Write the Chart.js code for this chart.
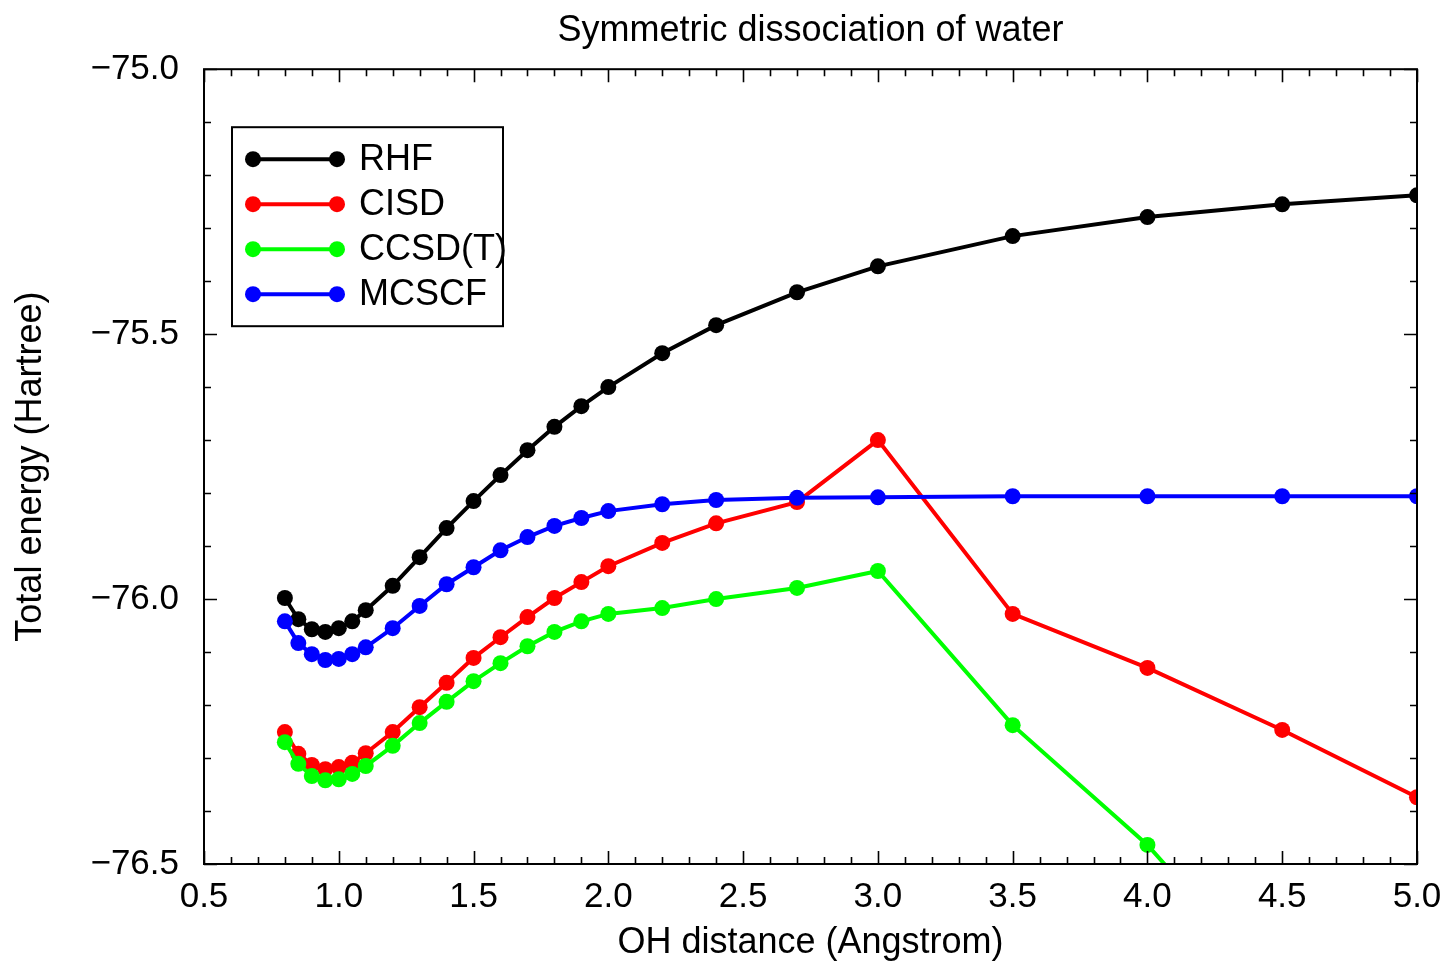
<!DOCTYPE html>
<html>
<head>
<meta charset="utf-8">
<script src="https://cdn.jsdelivr.net/npm/chart.js@4.4.1/dist/chart.umd.min.js"></script>
<style>
  html, body { margin: 0; padding: 0; background: #fff; }
  #wrap { width: 1447px; height: 963px; }
</style>
</head>
<body>
<div id="wrap"><canvas id="chart" width="1447" height="963"></canvas></div>
<script>
// OH distance (Angstrom)
const distances = [0.8, 0.85, 0.9, 0.95, 1.0, 1.05, 1.1, 1.2, 1.3, 1.4, 1.5, 1.6, 1.7, 1.8, 1.9, 2.0, 2.2, 2.4, 2.7, 3.0, 3.5, 4.0, 4.5, 5.0];

// total energies (Hartree)
const rhf = [-75.998, -76.038, -76.057, -76.062, -76.055, -76.042, -76.021, -75.975, -75.921, -75.866, -75.815, -75.766, -75.719, -75.675, -75.636, -75.600, -75.536, -75.483, -75.421, -75.372, -75.315, -75.279, -75.255, -75.238];
const cisd = [-76.251, -76.292, -76.313, -76.321, -76.317, -76.309, -76.291, -76.251, -76.204, -76.158, -76.111, -76.072, -76.034, -75.998, -75.968, -75.938, -75.894, -75.857, -75.817, -75.700, -76.028, -76.130, -76.247, -76.374];
const ccsdt = [-76.270, -76.311, -76.334, -76.342, -76.340, -76.330, -76.315, -76.277, -76.234, -76.194, -76.155, -76.121, -76.089, -76.062, -76.042, -76.028, -76.017, -76.000, -75.979, -75.947, -76.238, -76.464, -76.75, -77.0];
const mcscf = [-76.042, -76.083, -76.104, -76.115, -76.113, -76.104, -76.091, -76.055, -76.013, -75.972, -75.940, -75.908, -75.883, -75.862, -75.847, -75.834, -75.821, -75.813, -75.809, -75.808, -75.806, -75.806, -75.806, -75.806];

const seriesNames = ["RHF", "CISD", "CCSD(T)", "MCSCF"];
const seriesColors = ["#000000", "#ff0000", "#00ff00", "#0000ff"];
const seriesValues = [rhf, cisd, ccsdt, mcscf];

const xRange = [0.5, 5.0];
const yRange = [-76.5, -75.0];

const FONT = "'Liberation Sans', Arial, Helvetica, sans-serif";

const fmt = (v) => (v < 0 ? "\u2212" : "") + Math.abs(v).toFixed(1);

// box frame with inward major/minor ticks on all four sides
const frameTicks = {
  id: "frameTicks",
  afterDatasetsDraw(chart) {
    const { ctx, chartArea: a, scales } = chart;
    const x = scales.x;
    const y = scales.y;
    ctx.save();
    ctx.strokeStyle = "#000";
    ctx.lineWidth = 2;
    ctx.strokeRect(a.left, a.top, a.right - a.left, a.bottom - a.top);
    ctx.lineWidth = 1.6;
    ctx.beginPath();
    const nx = Math.round((xRange[1] - xRange[0]) / 0.1);
    for (let i = 0; i <= nx; i += 1) {
      const px = Math.round(x.getPixelForValue(xRange[0] + i * 0.1)) + 0.5;
      const len = i % 5 === 0 ? 13 : 7;
      ctx.moveTo(px, a.bottom);
      ctx.lineTo(px, a.bottom - len);
      ctx.moveTo(px, a.top);
      ctx.lineTo(px, a.top + len);
    }
    const ny = Math.round((yRange[1] - yRange[0]) / 0.1);
    for (let i = 0; i <= ny; i += 1) {
      const py = Math.round(y.getPixelForValue(yRange[0] + i * 0.1)) + 0.5;
      const len = i % 5 === 0 ? 13 : 7;
      ctx.moveTo(a.left, py);
      ctx.lineTo(a.left + len, py);
      ctx.moveTo(a.right, py);
      ctx.lineTo(a.right - len, py);
    }
    ctx.stroke();
    ctx.restore();
  },
};

// legend box: line with a marker at each end
const boxLegend = {
  id: "boxLegend",
  afterDraw(chart) {
    const { ctx, chartArea: a } = chart;
    const left = a.left + 28;
    const top = a.top + 58;
    ctx.save();
    ctx.fillStyle = "#fff";
    ctx.fillRect(left, top, 271, 199);
    ctx.strokeStyle = "#000";
    ctx.lineWidth = 2;
    ctx.strokeRect(left, top, 271, 199);
    ctx.font = `36px ${FONT}`;
    ctx.textBaseline = "middle";
    seriesNames.forEach((name, i) => {
      const rowY = top + 32 + i * 45;
      const x0 = left + 21;
      const x1 = left + 105;
      ctx.strokeStyle = seriesColors[i];
      ctx.fillStyle = seriesColors[i];
      ctx.lineWidth = 4;
      ctx.beginPath();
      ctx.moveTo(x0, rowY);
      ctx.lineTo(x1, rowY);
      ctx.stroke();
      [x0, x1].forEach((cx) => {
        ctx.beginPath();
        ctx.arc(cx, rowY, 8, 0, Math.PI * 2);
        ctx.fill();
      });
      ctx.fillStyle = "#000";
      ctx.fillText(name, left + 127, rowY + 1);
    });
    ctx.restore();
  },
};

const datasets = seriesNames.map((name, i) => ({
  label: name,
  data: distances.map((d, j) => ({ x: d, y: seriesValues[i][j] })),
  borderColor: seriesColors[i],
  backgroundColor: seriesColors[i],
  borderWidth: 4,
  pointRadius: 8,
  pointBorderWidth: 0,
  pointHoverRadius: 8,
  tension: 0,
  order: 4 - i,
}));

new Chart(document.getElementById("chart"), {
  type: "line",
  data: { datasets },
  plugins: [frameTicks, boxLegend],
  options: {
    responsive: false,
    animation: false,
    layout: { padding: { top: 0, right: 30, bottom: 0, left: 0 } },
    plugins: {
      legend: { display: false },
      tooltip: { enabled: false },
      title: {
        display: true,
        text: "Symmetric dissociation of water",
        color: "#000",
        fullSize: false,
        font: { family: FONT, size: 36, weight: "normal", lineHeight: 1.2 },
        padding: { top: 9, bottom: 17 },
      },
    },
    scales: {
      x: {
        type: "linear",
        min: xRange[0],
        max: xRange[1],
        afterFit: (scale) => {
          scale.height = 99;
          scale.paddingLeft = 0;
          scale.paddingRight = 0;
        },
        grid: { display: false, drawTicks: false },
        border: { display: false },
        ticks: {
          stepSize: 0.5,
          autoSkip: false,
          maxRotation: 0,
          padding: 12,
          color: "#000",
          font: { family: FONT, size: 35 },
          callback: (v) => fmt(v),
        },
        title: {
          display: true,
          text: "OH distance (Angstrom)",
          color: "#000",
          font: { family: FONT, size: 36, lineHeight: 1.1 },
          padding: { top: 0, bottom: 0 },
        },
      },
      y: {
        min: yRange[0],
        max: yRange[1],
        afterFit: (scale) => { scale.width = 204; },
        grid: { display: false, drawTicks: false },
        border: { display: false },
        ticks: {
          stepSize: 0.5,
          autoSkip: false,
          padding: 25,
          color: "#000",
          font: { family: FONT, size: 35 },
          callback: (v) => fmt(v),
        },
        title: {
          display: true,
          text: "Total energy (Hartree)",
          color: "#000",
          font: { family: FONT, size: 36, lineHeight: 1.2 },
          padding: { top: 9, bottom: 0 },
        },
      },
    },
  },
});
</script>
</body>
</html>
